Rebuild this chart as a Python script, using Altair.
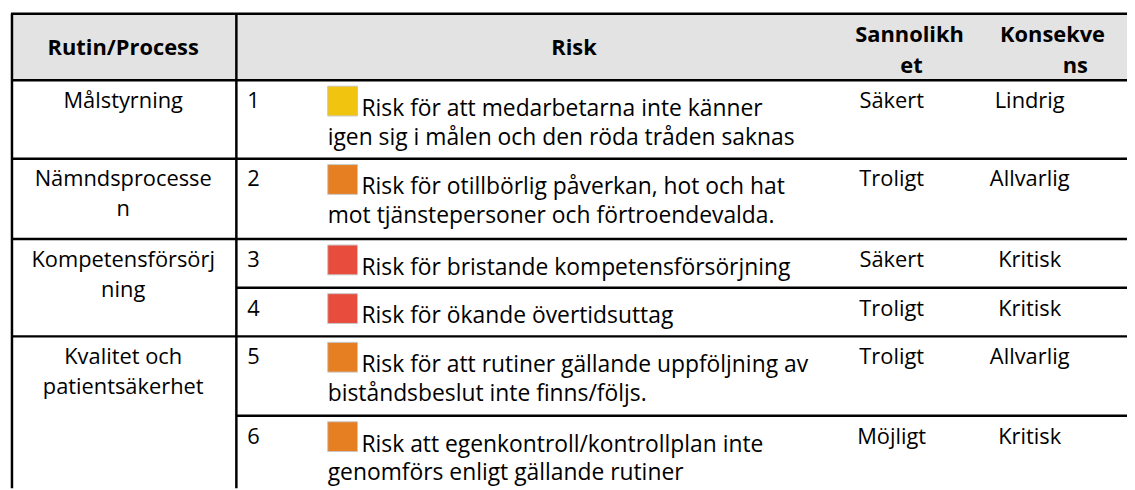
import altair as alt
import pandas as pd

# ---------------- data ----------------
headers = [["Rutin/Process"], ["Risk"], ["Sannolikh", "et"], ["Konsekve", "ns"]]
processes = [["Målstyrning"], ["Nämndsprocesse", "n"], ["Kompetensförsörj", "ning"],
             ["Kvalitet och", "patientsäkerhet"]]
process_span = [1, 1, 2, 2]
risk_ids = ["1", "2", "3", "4", "5", "6"]
risk_texts = [
    ["Risk för att medarbetarna inte känner", "igen sig i målen och den röda tråden saknas"],
    ["Risk för otillbörlig påverkan, hot och hat", "mot tjänstepersoner och förtroendevalda."],
    ["Risk för bristande kompetensförsörjning"],
    ["Risk för ökande övertidsuttag"],
    ["Risk för att rutiner gällande uppföljning av", "biståndsbeslut inte finns/följs."],
    ["Risk att egenkontroll/kontrollplan inte", "genomförs enligt gällande rutiner"],
]
risk_levels = ["Gul", "Orange", "Röd", "Röd", "Orange", "Orange"]
sannolikhet = ["Säkert", "Troligt", "Säkert", "Troligt", "Troligt", "Möjligt"]
konsekvens = ["Lindrig", "Allvarlig", "Kritisk", "Kritisk", "Allvarlig", "Kritisk"]
level_names = ["Gul", "Orange", "Röd"]
level_colors = ["#F1C40F", "#E67E22", "#E74C3C"]

# ---------------- layout ----------------
FONT = "Open Sans"
FS = 22
FS_RISK = 23
FS_HEAD = 22
X_LEFT, X_MID, X_RIGHT = 12, 238, 1135
Y_TOP, Y_HEAD, Y_BOTTOM = 12, 79, 490
row_tops = [79, 158, 239, 288, 337, 417]
LINE_H = 29
header_pos = [[(124, 54)], [(578, 54)], [(916, 41), (918, 72)], [(1060, 41), (1083, 72)]]
COL_PROC = 124
COL_NUM = 249
COL_SQ = 330
SQ = 30
COL_TXT1, COL_TXT2 = 364, 330
COL_SANN, COL_KONS = 898, 1037

xs = alt.Scale(domain=[8, 1135], nice=False, zero=False)
ys = alt.Scale(domain=[8, 490], nice=False, zero=False, reverse=True)

# header background
head_bg = pd.DataFrame([{"x": X_LEFT, "x2": X_RIGHT, "y": Y_TOP, "y2": Y_HEAD}])

# grid lines
proc_tops = []
i = 0
for s in process_span:
    proc_tops.append(row_tops[i])
    i += s
lines = [{"x": X_LEFT - 1, "x2": X_RIGHT, "y": Y_TOP, "y2": Y_TOP},
         {"x": X_LEFT, "x2": X_LEFT, "y": Y_TOP, "y2": Y_BOTTOM},
         {"x": X_MID, "x2": X_MID, "y": Y_TOP, "y2": Y_BOTTOM}]
for t in row_tops:
    x0 = X_LEFT if t in proc_tops or t == Y_HEAD else X_MID
    lines.append({"x": x0, "x2": X_RIGHT, "y": t, "y2": t})
lines_df = pd.DataFrame(lines)

# header texts
head_rows = []
for h, pos in zip(headers, header_pos):
    for line, (px, py) in zip(h, pos):
        head_rows.append({"x": px, "y": py, "t": line})
head_df = pd.DataFrame(head_rows)

# process texts
proc_rows = []
for p, top in zip(processes, proc_tops):
    for k, line in enumerate(p):
        proc_rows.append({"x": COL_PROC, "y": top + 28 + k * 30, "t": line})
proc_df = pd.DataFrame(proc_rows)

# centered value texts, numbers, risk texts, squares
val_rows = []
num_rows = []
risk_rows = []
sq_rows = []
for k, top in enumerate(row_tops):
    val_rows.append({"x": COL_SANN, "y": top + 28, "t": sannolikhet[k]})
    val_rows.append({"x": COL_KONS, "y": top + 28, "t": konsekvens[k]})
    num_rows.append({"x": COL_NUM, "y": top + 28, "t": risk_ids[k]})
    for j, line in enumerate(risk_texts[k]):
        risk_rows.append({"x": COL_TXT1 if j == 0 else COL_TXT2,
                          "y": top + 36 + j * LINE_H, "t": line})
    sq_rows.append({"x": COL_SQ, "x2": COL_SQ + SQ, "y": top + 6, "y2": top + 6 + SQ,
                    "level": risk_levels[k]})
val_df = pd.DataFrame(val_rows)
num_df = pd.DataFrame(num_rows)
risk_df = pd.DataFrame(risk_rows)
sq_df = pd.DataFrame(sq_rows)

bg = alt.Chart(head_bg).mark_rect(color="#E3E3E3").encode(
    x=alt.X("x:Q", scale=xs, axis=None), x2="x2:Q",
    y=alt.Y("y:Q", scale=ys, axis=None), y2="y2:Q")

grid = alt.Chart(lines_df).mark_rule(color="#000000", strokeWidth=2.5).encode(
    x=alt.X("x:Q", scale=xs, axis=None), x2="x2:Q",
    y=alt.Y("y:Q", scale=ys, axis=None), y2="y2:Q")

squares = alt.Chart(sq_df).mark_rect(stroke="#C8C8C8", strokeWidth=1).encode(
    x=alt.X("x:Q", scale=xs, axis=None), x2="x2:Q",
    y=alt.Y("y:Q", scale=ys, axis=None), y2="y2:Q",
    color=alt.Color("level:N", scale=alt.Scale(domain=level_names, range=level_colors),
                    legend=None))


def text_layer(df, align, size, bold=False):
    return alt.Chart(df).mark_text(
        align=align, baseline="alphabetic", font=FONT, fontSize=size,
        fontWeight="bold" if bold else "normal", color="#000000").encode(
        x=alt.X("x:Q", scale=xs, axis=None),
        y=alt.Y("y:Q", scale=ys, axis=None),
        text="t:N")


chart = alt.layer(
    bg, squares, grid,
    text_layer(head_df, "center", FS_HEAD, bold=True),
    text_layer(proc_df, "center", FS),
    text_layer(val_df, "center", FS),
    text_layer(num_df, "left", FS),
    text_layer(risk_df, "left", FS_RISK),
).properties(width=1127, height=482, padding=0,
             autosize=alt.AutoSizeParams(type="none")
).configure_view(strokeWidth=0)

chart.save("out.html", embed_options={"renderer": "svg", "actions": False})
